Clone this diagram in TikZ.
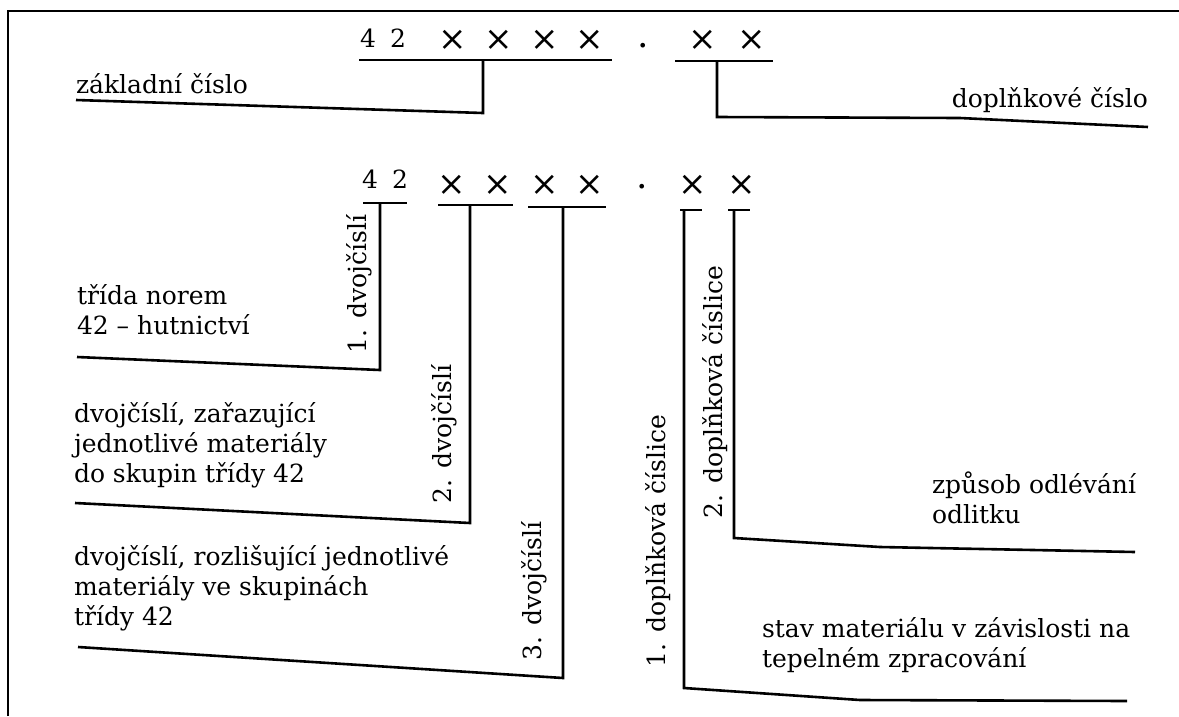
\documentclass[tikz,border=0pt]{standalone}
\usepackage{fontspec}
\setmainfont{DejaVu Serif}
\begin{document}
\begin{tikzpicture}[x=1pt,y=-1pt,
  txt/.style={font=\fontsize{25}{30}\selectfont, inner sep=0pt, outer sep=0pt},
  lbl/.style={txt, align=left, anchor=base west},
  glyph/.style={txt, anchor=base},
  point/.style={font=\fontsize{36}{36}\selectfont, inner sep=0pt, outer sep=0pt, anchor=base},
  cross/.style={font=\fontsize{34}{34}\selectfont, inner sep=0pt, outer sep=0pt, anchor=center},
  rot/.style={txt, rotate=90, anchor=base west},
  lead/.style={line width=2.6pt, line cap=butt, line join=miter},
  frame/.style={line width=1.3pt}]
\useasboundingbox (0,0) rectangle (1179,716);

% frame (top and left edge)
\draw[frame] (8,716) -- (8,11) -- (1179,11);

% ---------- upper scheme: basic / supplementary number ----------
\node[glyph] (t4)  at (368,47) {4};
\node[glyph] (t2)  at (398,47) {2};
\node[cross] (tx1) at (453,40) {×};
\node[cross] (tx2) at (499,40) {×};
\node[cross] (tx3) at (545,40) {×};
\node[cross] (tx4) at (590,40) {×};
\node[point] (tdot) at (643,47) {.};
\node[cross] (tx5) at (703,40) {×};
\node[cross] (tx6) at (752,40) {×};

\node[lbl] (zakl) at (76,93) {základní číslo};
\node[txt, anchor=base east] (dopl) at (1148,107) {doplňkové číslo};

\coordinate (uAl) at (359,60);  \coordinate (uAr) at (612,60);
\coordinate (jA)  at (483,60);  \coordinate (kA)  at (483,113);
\coordinate (eA)  at (76,100);
\draw[lead] (uAl) -- (uAr);
\draw[lead] (jA) -- (kA) -- (eA);

\coordinate (uBl) at (675,61);  \coordinate (uBr) at (773,61);
\coordinate (jB)  at (717,61);  \coordinate (kB)  at (717,117);
\coordinate (mB)  at (960,118); \coordinate (eB)  at (1148,127);
\draw[lead] (uBl) -- (uBr);
\draw[lead] (jB) -- (kB) -- (mB) -- (eB);

% ---------- lower scheme: meaning of the single digit pairs ----------
\node[glyph] (b4)  at (370,188) {4};
\node[glyph] (b2)  at (400,188) {2};
\node[cross] (bx1) at (452,185) {×};
\node[cross] (bx2) at (498,185) {×};
\node[cross] (bx3) at (545,185) {×};
\node[cross] (bx4) at (590,185) {×};
\node[point] (bdot) at (642,188) {.};
\node[cross] (bx5) at (693,185) {×};
\node[cross] (bx6) at (742,185) {×};

% vertical captions along the leaders
\node[rot] (d1) at (366,353) {1. dvojčíslí};
\node[rot] (d2) at (451,503) {2. dvojčíslí};
\node[rot] (d3) at (541,660) {3. dvojčíslí};
\node[rot] (c1) at (665,667) {1. doplňková číslice};
\node[rot] (c2) at (722,518) {2. doplňková číslice};

% explanations (anchored at the baseline of their last line)
\node[lbl] (trida) at (77,334) {třída norem\\42 – hutnictví};
\node[lbl] (zar)   at (74,482) {dvojčíslí, zařazující\\jednotlivé materiály\\do skupin třídy 42};
\node[lbl] (roz)   at (74,625) {dvojčíslí, rozlišující jednotlivé\\materiály ve skupinách\\třídy 42};
\node[lbl] (zpus)  at (932,523) {způsob odlévání\\odlitku};
\node[lbl] (stav)  at (762,667) {stav materiálu v závislosti na\\tepelném zpracování};

% leader 1: class 42
\coordinate (u1l) at (363,203); \coordinate (u1r) at (407,203);
\coordinate (j1) at (380,203);  \coordinate (k1) at (380,370);
\coordinate (e1) at (77,357);
\draw[lead] (u1l) -- (u1r);
\draw[lead] (j1) -- (k1) -- (e1);

% leader 2: second digit pair
\coordinate (u2l) at (438,205); \coordinate (u2r) at (513,205);
\coordinate (j2) at (470,205);  \coordinate (k2) at (470,523);
\coordinate (e2) at (75,503);
\draw[lead] (u2l) -- (u2r);
\draw[lead] (j2) -- (k2) -- (e2);

% leader 3: third digit pair
\coordinate (u3l) at (528,207); \coordinate (u3r) at (606,207);
\coordinate (j3) at (563,207);  \coordinate (k3) at (563,678);
\coordinate (e3) at (78,647);
\draw[lead] (u3l) -- (u3r);
\draw[lead] (j3) -- (k3) -- (e3);

% leader 4: first supplementary digit
\coordinate (u4l) at (680,210); \coordinate (u4r) at (702,210);
\coordinate (j4) at (684,210);  \coordinate (k4) at (684,688);
\coordinate (m4) at (860,700);  \coordinate (e4) at (1127,701);
\draw[lead] (u4l) -- (u4r);
\draw[lead] (j4) -- (k4) -- (m4) -- (e4);

% leader 5: second supplementary digit
\coordinate (u5l) at (728,210); \coordinate (u5r) at (750,210);
\coordinate (j5) at (734,210);  \coordinate (k5) at (734,538);
\coordinate (m5) at (880,547);  \coordinate (e5) at (1135,552);
\draw[lead] (u5l) -- (u5r);
\draw[lead] (j5) -- (k5) -- (m5) -- (e5);
\end{tikzpicture}
\end{document}
